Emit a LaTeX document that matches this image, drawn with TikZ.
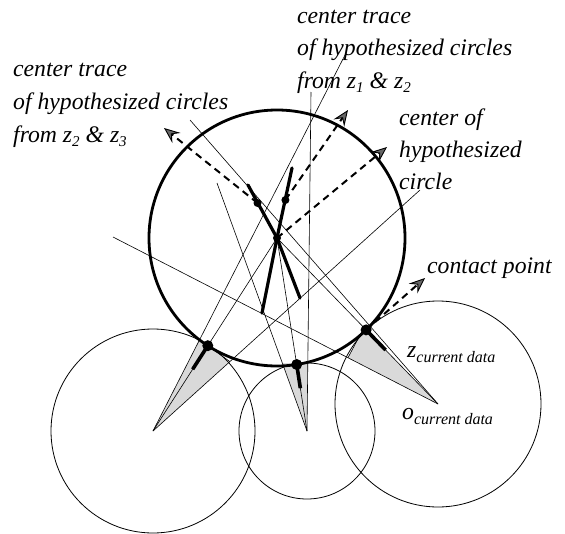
\documentclass[tikz,border=0pt]{standalone}
\usepackage{fontspec}
\setmainfont{Liberation Serif}
\usetikzlibrary{arrows.meta,calc}
\newcommand\subtxt[1]{\raisebox{-4.5pt}{\fontsize{15}{15}\selectfont #1}}
\newcommand\subcur[1]{\raisebox{-5pt}{\fontsize{16}{16}\selectfont #1}}
\begin{document}
\begin{tikzpicture}[x=1pt,y=-1pt,
  thinline/.style={line width=0.6pt},
  bigcirc/.style={line width=2.8pt},
  smallcirc/.style={line width=0.8pt},
  trace/.style={line width=3.2pt, line cap=round},
  normalseg/.style={line width=3.6pt},
  dasharrow/.style={line width=2pt, dash pattern=on 7pt off 5pt,
     -{Stealth[length=16pt,width=13pt,inset=6pt,fill=black!60,line width=0.9pt]}},
  shadetri/.style={fill=gray!30},
  dotc/.style={circle, fill=black, inner sep=0pt, minimum size=11pt},
  dotm/.style={circle, fill=black, inner sep=0pt, minimum size=8pt},
  lbl/.style={font=\fontsize{23.7}{32}\selectfont\itshape, anchor=base west, inner sep=0pt},
]
\path[use as bounding box] (0,0) rectangle (565,533);

% key points
\coordinate (O) at (277,238);
\coordinate (CL) at (153,431);
\coordinate (CM) at (307,431);
\coordinate (CR) at (438,404);
\coordinate (PL) at (207.8,345.7);
\coordinate (PM) at (296.7,364.5);
\coordinate (PR) at (366.1,329.9);
% far ends of thin lines
\coordinate (L1e) at (190,120);
\coordinate (L2e) at (113,237);
\coordinate (L3e) at (217,183);
\coordinate (L4e) at (345,55);
\coordinate (L5e) at (311,92);
\coordinate (L6e) at (420,190);
% triangle vertices
\coordinate (TL1) at ($(CL)!0.242!(L4e)$);
\coordinate (TL2) at ($(CL)!0.288!(L6e)$);
\coordinate (TM1) at ($(CM)!0.274!(L3e)$);
\coordinate (TM2) at ($(CM)!0.2!(L5e)$);
\coordinate (TR1) at ($(CR)!1.03!(PR)$);
\coordinate (TR2) at ($(CR)!0.277!(L2e)$);

% shaded triangles
\fill[shadetri] (CL) -- (TL1) -- (TL2) -- cycle;
\fill[shadetri] (CM) -- (TM1) -- (TM2) -- cycle;
\fill[shadetri] (CR) -- (TR1) -- (TR2) -- cycle;

% small circles
\draw[smallcirc] (CL) circle[radius=102];
\draw[smallcirc] (CM) circle[radius=68];
\draw[smallcirc] (CR) circle[radius=103];

% thin lines
\draw[thinline] (CR) -- (L1e);
\draw[thinline] (CR) -- (L2e);
\draw[thinline] (CM) -- (L3e);
\draw[thinline] (CL) -- (L4e);
\draw[thinline] (CM) -- (L5e);
\draw[thinline] (CL) -- (L6e);
\draw[thinline] (TR1) -- (TR2);
\draw[thinline] (TL1) -- (TL2);
% radii and contact-to-centre lines
\draw[thinline] (O) -- (PL) -- (CL);
\draw[thinline] (O) -- (PM) -- (CM);
\draw[thinline] (O) -- (PR) -- (CR);

% big hypothesized circle
\draw[bigcirc] (O) circle[radius=128];

% short thick segments at the contacts
\draw[normalseg] (PL) -- ($(PL)!28pt!(CL)$);
\draw[normalseg] (PM) -- ($(PM)!24pt!(CM)$);
\draw[normalseg] (PR) -- ($(PR)!28pt!(CR)$);

% centre traces
\coordinate (T1a) at (248,185);
\coordinate (T1b) at (300,298);
\coordinate (T2a) at (292,168);
\coordinate (T2b) at (262,313);
\coordinate (D1) at (257.5,203);
\coordinate (D2) at (285.4,200);
\draw[trace] (T1a) -- (O) -- (T1b);
\draw[trace] (T2a) -- (O) -- (T2b);

% dashed arrows
\coordinate (A1) at (164,128);
\coordinate (A2) at (348,110);
\coordinate (A3) at (387,147);
\coordinate (A4) at (425,278);
\draw[dasharrow] (D1) -- (A1);
\draw[dasharrow] (D2) -- (A2);
\draw[dasharrow] (O) -- (A3);
\draw[dasharrow] (PR) -- (A4);

% dots
\node[dotm] (d1) at (D1) {};
\node[dotm] (d2) at (D2) {};
\node[dotm] (dO) at (O) {};
\node[dotc] (dL) at (PL) {};
\node[dotc] (dM) at (PM) {};
\node[dotc] (dR) at (PR) {};

% labels
\node[lbl] (la1) at (13,76) {center trace};
\node[lbl] (la2) at (13,109) {of hypothesized circles};
\node[lbl] (la3) at (13,142) {from z\subtxt{2} \& z\subtxt{3}};
\node[lbl] (lb1) at (297,23) {center trace};
\node[lbl] (lb2) at (297,55) {of hypothesized circles};
\node[lbl] (lb3) at (297,88) {from z\subtxt{1} \& z\subtxt{2}};
\node[lbl] (lc1) at (399,125) {center of};
\node[lbl] (lc2) at (399,157) {hypothesized};
\node[lbl] (lc3) at (399,189) {circle};
\node[lbl] (ld) at (427,273) {contact point};
\node[lbl] (lz) at (407,357) {z\subcur{current data}};
\node[lbl] (lo) at (402,419) {o\subcur{current data}};
\end{tikzpicture}
\end{document}
